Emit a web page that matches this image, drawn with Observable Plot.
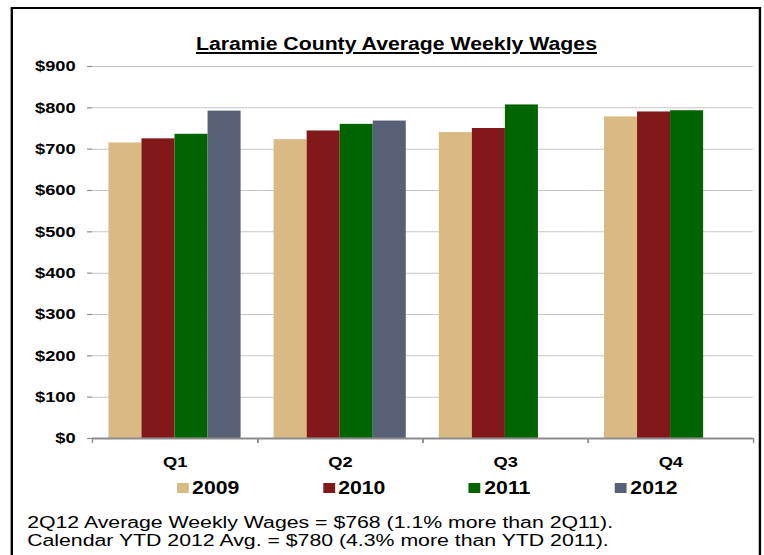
<!DOCTYPE html>
<html>
<head>
<meta charset="utf-8">
<script src="https://cdn.jsdelivr.net/npm/d3@7"></script>
<script src="https://cdn.jsdelivr.net/npm/@observablehq/plot@0.6"></script>
<style>
  html, body { margin: 0; padding: 0; background: #fff; overflow: hidden; width: 764px; height: 555px; }
  body { font-family: "Liberation Sans", Arial, Helvetica, sans-serif; color: #000; }
  #wrap { position: absolute; left: 0; top: 0; width: 647.46px; height: 555px; transform: scaleX(1.18); transform-origin: 0 0; }
  #frame { position: absolute; left: 8.5px; top: 7px; width: 636.4px; height: 620px; border: 2px solid #000; box-sizing: border-box; }
  #title { position: absolute; left: 0; top: 34.8px; width: 672px; text-align: center; font-size: 18px; line-height: 18px; font-weight: bold; white-space: nowrap; text-decoration: underline; text-decoration-thickness: 2px; text-underline-offset: 2px; }
  #chart { position: absolute; left: 0; top: 56px; }
  .leg { position: absolute; top: 478.8px; height: 18px; font-size: 18px; line-height: 18px; font-weight: bold; white-space: nowrap; }
  .leg .sw { position: absolute; left: 0; top: 4.2px; width: 10.2px; height: 10px; }
  .leg .lt { position: absolute; left: 13.1px; top: 0; }
  #note { position: absolute; left: 22.9px; top: 514.45px; font-size: 16px; line-height: 18px; white-space: nowrap; transform: scaleX(1.126); transform-origin: 0 0; }
</style>
</head>
<body>
<div id="wrap">
  <div id="frame"></div>
  <div id="title">Laramie County Average Weekly Wages</div>
  <div id="chart"></div>
  <div id="legend"></div>
  <div id="note"></div>
</div>
<script>
const quarters = ["Q1", "Q2", "Q3", "Q4"];
const years = ["2009", "2010", "2011", "2012"];
const wages2009 = [715, 723, 740, 778];
const wages2010 = [725, 744, 750, 790];
const wages2011 = [736, 760, 807, 793];
const wages2012 = [792, 768, null, null];
const yearColors = ["#D9BA83", "#83181A", "#006400", "#576077"];
const yTicks = [0, 100, 200, 300, 400, 500, 600, 700, 800, 900];
const titleText = "Laramie County Average Weekly Wages";
const noteLines = [
  "2Q12 Average Weekly Wages = $768 (1.1% more than 2Q11).",
  "Calendar YTD 2012 Avg. = $780 (4.3% more than YTD 2011)."
];

const series = [wages2009, wages2010, wages2011, wages2012];
const rows = [];
quarters.forEach((q, qi) => {
  years.forEach((yr, yi) => {
    const v = series[yi][qi];
    if (v != null) rows.push({quarter: q, year: yr, value: v});
  });
});

const k = 1.18;
const W = 764 / k;
const mL = 91 / k, mR = 11 / k;
const bw = (W - mL - mR) / quarters.length;
const gray = "#8c8c8c";

const chart = Plot.plot({
  width: W,
  height: 420,
  marginLeft: mL,
  marginRight: mR,
  marginTop: 10,
  marginBottom: 38,
  style: {fontFamily: '"Liberation Sans", Arial, sans-serif', fontSize: "15.5px", fontWeight: "bold", color: "#000", background: "transparent", overflow: "visible"},
  fx: {domain: quarters, padding: 0, label: null, axis: null},
  x: {domain: years, paddingInner: 0, paddingOuter: 0.44, axis: null},
  y: {domain: [0, 900], axis: null},
  color: {domain: years, range: yearColors},
  marks: [
    Plot.ruleY(yTicks.slice(1), {stroke: "#c6c6c6", strokeWidth: 1}),
    Plot.barY(rows, {fx: "quarter", x: "year", y: "value", fill: "year"}),
    Plot.ruleY([0], {stroke: gray, strokeWidth: 2}),
    Plot.axisY({ticks: yTicks, tickSize: 4.2, text: null, stroke: gray, strokeWidth: 1.2, line: true, label: null}),
    Plot.axisY({ticks: yTicks, tickSize: 0, tickPadding: 14.4, tickFormat: d => "$" + d, fill: "#000", label: null}),
    Plot.axisFx({anchor: "bottom", tickSize: 0, tickPadding: 18, fill: "#000", label: null}),
    Plot.axisFx({anchor: "bottom", tickSize: 5, text: null, dx: -bw / 2, stroke: gray, strokeWidth: 1.2, label: null}),
    Plot.axisFx({anchor: "bottom", tickSize: 5, text: null, dx: bw / 2, stroke: gray, strokeWidth: 1.2, label: null})
  ]
});
document.getElementById("chart").appendChild(chart);

// legend
const legend = document.getElementById("legend");
years.forEach((yr, i) => {
  const item = document.createElement("div");
  item.className = "leg";
  item.style.left = (149.7 + i * 123.8) + "px";
  const sw = document.createElement("div");
  sw.className = "sw";
  sw.style.background = yearColors[i];
  const lt = document.createElement("span");
  lt.className = "lt";
  lt.textContent = yr;
  item.appendChild(sw);
  item.appendChild(lt);
  legend.appendChild(item);
});

document.getElementById("note").innerHTML = noteLines.map(s => "<div>" + s.replace(/&/g, "&amp;") + "</div>").join("");
</script>
</body>
</html>
